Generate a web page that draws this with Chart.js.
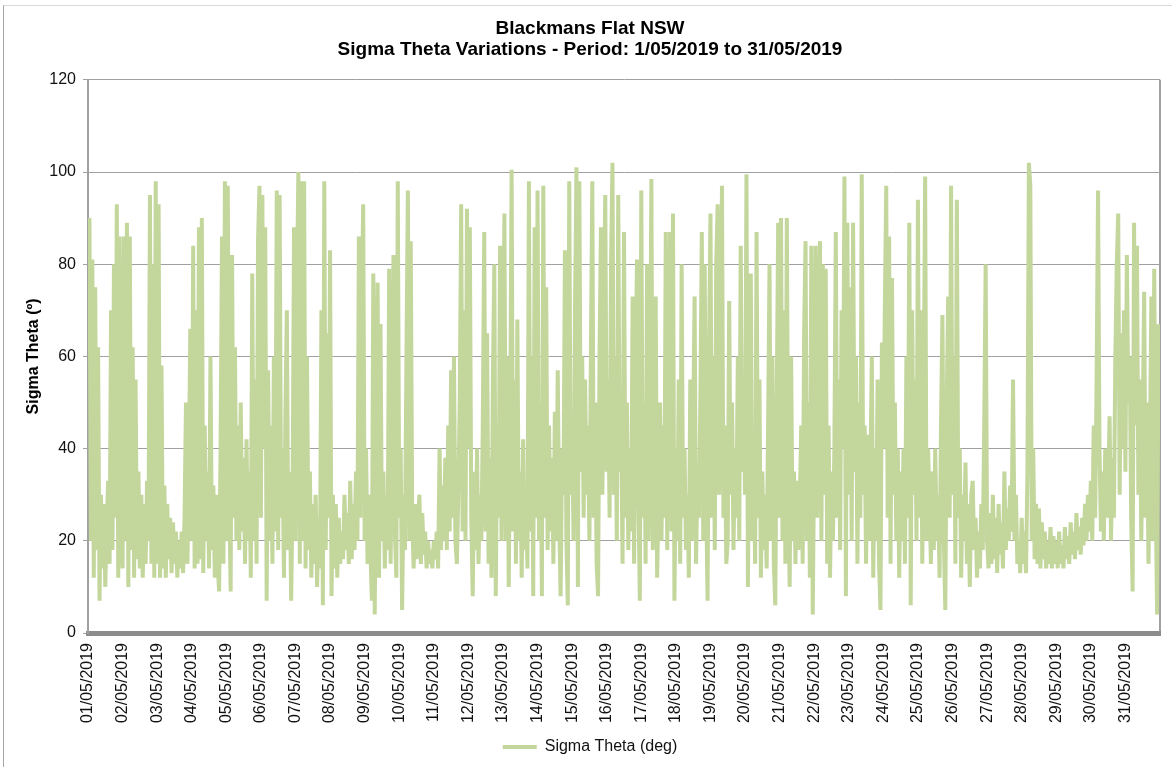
<!DOCTYPE html>
<html>
<head>
<meta charset="utf-8">
<title>Blackmans Flat NSW - Sigma Theta</title>
<script src="https://cdn.jsdelivr.net/npm/chart.js@4.4.1/dist/chart.umd.min.js"></script>
<style>
    html, body { margin: 0; padding: 0; background: #fff; overflow: hidden; }
    #wrap { position: relative; width: 1172px; height: 767px; overflow: hidden; }
    #frame { position: absolute; left: 3px; top: 5px; width: 1200px; height: 800px;
             border-left: 1px solid #a6a6a6; border-top: 1px solid #d9d9d9; }
    #sigmaChart { position: absolute; left: 0; top: 0; }
</style>
</head>
<body>
<div id="wrap">
    <div id="frame"></div>
    <canvas id="sigmaChart" width="1172" height="767"></canvas>
</div>
<script>
// Nhãn trục X (mỗi ngày một nhãn)
const dayLabels = [
    '01/05/2019', '02/05/2019', '03/05/2019', '04/05/2019', '05/05/2019', '06/05/2019', '07/05/2019',
    '08/05/2019', '09/05/2019', '10/05/2019', '11/05/2019', '12/05/2019', '13/05/2019', '14/05/2019',
    '15/05/2019', '16/05/2019', '17/05/2019', '18/05/2019', '19/05/2019', '20/05/2019', '21/05/2019',
    '22/05/2019', '23/05/2019', '24/05/2019', '25/05/2019', '26/05/2019', '27/05/2019', '28/05/2019',
    '29/05/2019', '30/05/2019', '31/05/2019'
];
const hoursPerDay = 24;
const yTicks = [0, 20, 40, 60, 80, 100, 120];

// Sigma Theta (deg), giá trị theo giờ - mỗi dòng là một ngày
const sigmaTheta = [
    68,90,20,81,12,75,18,62,7,30,14,28,10,24,33,15,70,18,80,25,93,12,86,20,
    14,86,20,89,10,86,18,62,12,55,16,35,14,30,12,28,15,33,20,95,15,80,12,98,
    15,93,12,58,14,32,12,28,16,25,13,24,15,22,12,20,14,22,13,25,50,15,35,66,
    20,84,14,70,15,88,16,90,13,45,20,35,14,60,18,32,12,30,15,9,40,86,15,98,
    20,97,30,9,82,25,62,20,45,18,50,22,38,15,42,20,35,12,78,20,55,15,85,97,
    25,95,40,88,7,57,20,45,15,60,22,96,18,95,25,40,12,47,70,18,35,7,30,88,
    20,75,100,15,98,20,98,14,60,18,35,12,28,15,30,10,25,14,70,6,98,18,65,25,
    83,8,30,14,28,12,25,15,22,16,30,18,26,15,33,16,28,18,35,20,86,25,72,93,
    20,40,15,30,18,7,78,4,45,76,12,67,20,35,14,30,18,79,15,40,82,22,12,98,
    25,40,5,30,18,60,96,20,85,25,14,28,16,24,30,15,26,17,22,14,20,15,18,14,
    20,16,22,14,40,18,32,20,38,18,45,22,57,25,60,20,15,30,50,93,22,70,20,92,
    40,88,25,8,35,18,40,15,30,20,45,87,22,65,15,38,12,55,80,8,45,25,84,20,
    50,91,20,60,10,45,100.5,22,55,15,68,20,35,12,42,18,30,14,98,22,60,8,88,25,
    96,20,50,8,97,25,75,18,45,22,38,15,48,20,57,25,8,40,30,83,20,6,98,30,
    45,20,70,101,10,98,35,60,25,55,30,45,20,60,98,25,50,15,8,60,88,30,70,95,
    35,55,25,80,102,30,60,20,95,35,45,15,87,25,50,18,40,22,73,15,55,81,30,7,
    96,25,50,15,80,20,45,98.5,18,40,73,12,30,50,20,45,25,87,18,60,87,22,91,7,
    40,20,55,15,80,25,40,18,30,12,55,20,45,73,15,35,25,50,87,20,80,30,7,60,
    91,25,60,18,80,93,30,55,97,25,45,15,20,72,30,50,18,40,25,60,20,84,35,55,
    30,99.5,10,50,78,20,40,15,87,25,55,12,35,18,30,14,45,80,20,60,15,6,50,89,
    25,90,20,70,15,90,30,10,60,20,35,15,33,18,28,45,15,65,85,20,50,12,84,4,
    40,84,25,60,85,20,80,30,79,15,45,12,35,20,40,87,25,55,18,70,40,99,8,89,
    30,75,20,89,35,60,15,50,25,99.5,30,45,15,43,20,35,60,12,40,20,55,15,5,63,
    40,70,97,25,86,15,77,30,50,20,40,12,35,20,40,15,60,25,89,6,70,30,55,20,
    94,25,70,15,50,99,20,40,30,15,35,18,40,20,30,12,45,69,20,5,50,73,25,97,
    30,60,15,94,25,40,12,30,20,37,15,28,10,30,33,18,25,12,22,14,28,18,45,80,
    20,14,26,15,30,16,25,13,28,17,24,14,35,18,27,20,32,22,55,20,30,15,20,13,
    25,15,22,13,35,102,97,20,40,16,28,15,27,14,24,16,22,14,20,15,23,14,21,15,
    20,14,22,15,19,14,23,16,21,15,24,17,22,16,26,18,23,17,25,19,28,20,30,22,
    33,20,45,25,55,96,40,22,35,20,40,25,30,47,20,38,25,60,80,91,30,65,40,70,
    35,82,50,60,25,9,89,45,84,30,55,20,45,74,25,50,15,40,73,20,79,30,4,67
];

const FONT = "'Liberation Sans', Arial, sans-serif";
const LINE_GREEN = '#c3d69b';
const xMax = dayLabels.length * hoursPerDay;

const points = sigmaTheta.map((v, i) => ({ x: i, y: v }));

new Chart(document.getElementById('sigmaChart'), {
    type: 'line',
    data: {
        datasets: [{
            label: 'Sigma Theta (deg)',
            data: points,
            borderColor: LINE_GREEN,
            backgroundColor: LINE_GREEN,
            borderWidth: 4,
            pointRadius: 0,
            tension: 0,
            fill: false
        }]
    },
    options: {
        responsive: false,
        animation: false,
        devicePixelRatio: 1,
        layout: { padding: { left: 20, right: 12, top: 0, bottom: 2 } },
        plugins: {
            title: {
                display: true,
                text: ['Blackmans Flat NSW', 'Sigma Theta Variations - Period: 1/05/2019 to 31/05/2019'],
                color: '#000',
                font: { family: FONT, size: 19, weight: 'bold', lineHeight: 1.1 },
                padding: { top: 18, bottom: 20 }
            },
            legend: {
                position: 'bottom',
                labels: {
                    boxWidth: 34,
                    boxHeight: 4,
                    padding: 10,
                    color: '#111',
                    font: { family: FONT, size: 16 },
                    generateLabels: chart => {
                        const items = Chart.defaults.plugins.legend.labels.generateLabels(chart);
                        items.forEach(it => { it.lineWidth = 0; });
                        return items;
                    }
                }
            },
            tooltip: { enabled: false }
        },
        scales: {
            x: {
                type: 'linear',
                min: 0,
                max: xMax,
                afterBuildTicks: scale => {
                    const t = dayLabels.map((_, i) => ({ value: i * hoursPerDay }));
                    t.push({ value: xMax });
                    scale.ticks = t;
                },
                afterFit: scale => {
                    scale.height = 96;
                    // không để nhãn xoay đẩy vùng vẽ vào trong
                    scale.paddingLeft = 0;
                    scale.paddingRight = 0;
                },
                ticks: {
                    autoSkip: false,
                    minRotation: 90,
                    maxRotation: 90,
                    padding: 10,
                    color: '#111',
                    font: { family: FONT, size: 16 },
                    callback: v => dayLabels[v / hoursPerDay] || ''
                },
                grid: {
                    drawTicks: false,
                    lineWidth: 2,
                    // chỉ vẽ đường khung bên phải
                    color: c => (c.tick && c.tick.value === xMax) ? '#a0a0a0' : 'rgba(0,0,0,0)'
                },
                border: { color: '#8c8c8c', width: 5 }
            },
            y: {
                min: yTicks[0],
                max: yTicks[yTicks.length - 1],
                afterBuildTicks: scale => { scale.ticks = yTicks.map(v => ({ value: v })); },
                afterFit: scale => { scale.width = 68; },
                ticks: {
                    padding: 7,
                    color: '#111',
                    font: { family: FONT, size: 16 }
                },
                grid: { color: '#a0a0a0', lineWidth: 1, tickLength: 5 },
                border: { color: '#a0a0a0', width: 2 },
                title: {
                    display: true,
                    text: 'Sigma Theta (º)',
                    color: '#000',
                    font: { family: FONT, size: 16, weight: 'bold' },
                    padding: { top: 4, bottom: 0 }
                }
            }
        }
    }
});
</script>
</body>
</html>
